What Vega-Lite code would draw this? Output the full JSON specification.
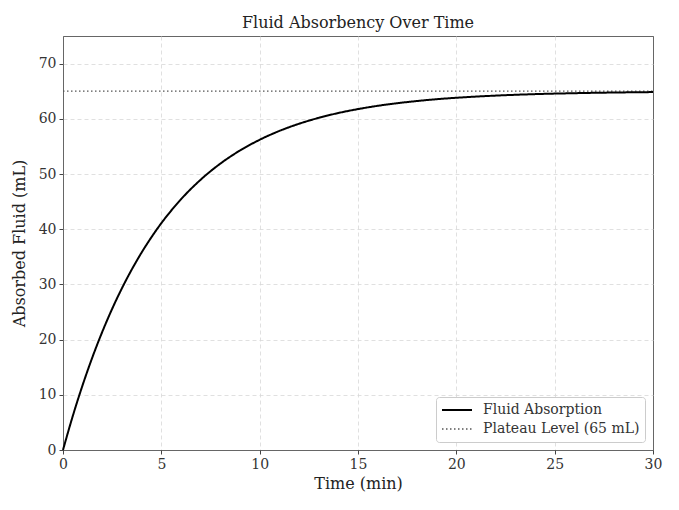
{
  "$schema": "https://vega.github.io/schema/vega-lite/v6.json",
  "width": 590,
  "height": 414,
  "autosize": {"type": "none"},
  "padding": {"left": 63, "top": 36, "right": 26, "bottom": 60},
  "background": "white",
  "title": {"text": "Fluid Absorbency Over Time", "font": "DejaVu Serif", "fontSize": 16, "fontWeight": "normal", "color": "#222", "offset": 5},
  "datasets": {
    "curve": [
      {"t": 0, "v": 0, "series": "Fluid Absorption"},
      {"t": 0.5, "v": 6.19, "series": "Fluid Absorption"},
      {"t": 1, "v": 11.78, "series": "Fluid Absorption"},
      {"t": 1.5, "v": 16.85, "series": "Fluid Absorption"},
      {"t": 2, "v": 21.43, "series": "Fluid Absorption"},
      {"t": 2.5, "v": 25.58, "series": "Fluid Absorption"},
      {"t": 3, "v": 29.33, "series": "Fluid Absorption"},
      {"t": 3.5, "v": 32.72, "series": "Fluid Absorption"},
      {"t": 4, "v": 35.79, "series": "Fluid Absorption"},
      {"t": 4.5, "v": 38.57, "series": "Fluid Absorption"},
      {"t": 5, "v": 41.09, "series": "Fluid Absorption"},
      {"t": 6, "v": 45.42, "series": "Fluid Absorption"},
      {"t": 7, "v": 48.97, "series": "Fluid Absorption"},
      {"t": 8, "v": 51.88, "series": "Fluid Absorption"},
      {"t": 9, "v": 54.26, "series": "Fluid Absorption"},
      {"t": 10, "v": 56.2, "series": "Fluid Absorption"},
      {"t": 11, "v": 57.8, "series": "Fluid Absorption"},
      {"t": 12, "v": 59.1, "series": "Fluid Absorption"},
      {"t": 13, "v": 60.17, "series": "Fluid Absorption"},
      {"t": 14, "v": 61.05, "series": "Fluid Absorption"},
      {"t": 15, "v": 61.76, "series": "Fluid Absorption"},
      {"t": 16, "v": 62.35, "series": "Fluid Absorption"},
      {"t": 17, "v": 62.83, "series": "Fluid Absorption"},
      {"t": 18, "v": 63.22, "series": "Fluid Absorption"},
      {"t": 19, "v": 63.55, "series": "Fluid Absorption"},
      {"t": 20, "v": 63.81, "series": "Fluid Absorption"},
      {"t": 22, "v": 64.2, "series": "Fluid Absorption"},
      {"t": 24, "v": 64.47, "series": "Fluid Absorption"},
      {"t": 26, "v": 64.64, "series": "Fluid Absorption"},
      {"t": 28, "v": 64.76, "series": "Fluid Absorption"},
      {"t": 30, "v": 64.84, "series": "Fluid Absorption"}
    ],
    "plateau": [
      {"t": 0, "v": 65, "series": "Plateau Level (65 mL)"},
      {"t": 30, "v": 65, "series": "Plateau Level (65 mL)"}
    ]
  },
  "encoding": {
    "x": {
      "field": "t", "type": "quantitative",
      "scale": {"domain": [0, 30], "nice": false},
      "axis": {
        "title": "Time (min)", "values": [0, 5, 10, 15, 20, 25, 30], "labelFlush": false,
        "gridColor": {"condition": {"test": "datum.value === 0 || datum.value === 30", "value": "#666666"}, "value": "#d8d8d8"},
        "gridDash": {"condition": {"test": "datum.value === 0 || datum.value === 30", "value": []}, "value": [4, 3]},
        "gridWidth": {"condition": {"test": "datum.value === 0 || datum.value === 30", "value": 1}, "value": 0.8}
      }
    },
    "y": {
      "field": "v", "type": "quantitative",
      "scale": {"domain": [0, 75], "nice": false},
      "axis": {
        "title": "Absorbed Fluid (mL)", "values": [0, 10, 20, 30, 40, 50, 60, 70], "labelFlush": false,
        "gridColor": {"condition": {"test": "datum.value === 0", "value": "#666666"}, "value": "#d8d8d8"},
        "gridDash": {"condition": {"test": "datum.value === 0", "value": []}, "value": [4, 3]},
        "gridWidth": {"condition": {"test": "datum.value === 0", "value": 1}, "value": 0.8}
      }
    },
    "color": {
      "field": "series", "type": "nominal",
      "scale": {"domain": ["Fluid Absorption", "Plateau Level (65 mL)"], "range": ["#000000", "#555555"]},
      "legend": {"title": null}
    },
    "strokeDash": {
      "field": "series", "type": "nominal",
      "scale": {"domain": ["Fluid Absorption", "Plateau Level (65 mL)"], "range": [[1, 0], [1.5, 2.5]]},
      "legend": {"title": null}
    },
    "strokeWidth": {
      "field": "series", "type": "nominal",
      "scale": {"domain": ["Fluid Absorption", "Plateau Level (65 mL)"], "range": [2, 1.3]},
      "legend": null
    }
  },
  "layer": [
    {"data": {"name": "plateau"}, "mark": {"type": "line"}},
    {"data": {"name": "curve"}, "mark": {"type": "line", "interpolate": "monotone"}}
  ],
  "config": {
    "view": {"stroke": "#666666", "strokeWidth": 1},
    "axis": {
      "labelFont": "DejaVu Serif", "labelFontSize": 14, "labelColor": "#333",
      "titleFont": "DejaVu Serif", "titleFontSize": 16, "titleFontWeight": "normal", "titleColor": "#222",
      "domain": false, "tickColor": "#444", "tickSize": 4,
      "grid": true,
      "labelPadding": 3
    },
    "axisX": {"titlePadding": 4},
    "axisY": {"titlePadding": 11},
    "legend": {
      "orient": "bottom-right", "offset": 8,
      "fillColor": "white", "strokeColor": "#cccccc", "cornerRadius": 3, "padding": 5,
      "labelFont": "DejaVu Serif", "labelFontSize": 14, "labelColor": "#333",
      "symbolType": "stroke", "symbolSize": 900, "clipHeight": 16, "rowPadding": 3, "labelOffset": 10
    }
  }
}
